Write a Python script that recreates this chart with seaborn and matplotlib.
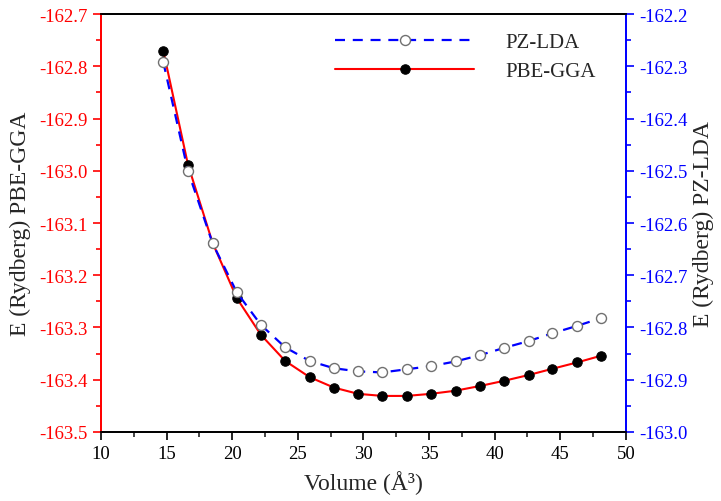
import numpy as np
import matplotlib
matplotlib.use("Agg")
import matplotlib.pyplot as plt
from matplotlib.ticker import MultipleLocator, FormatStrFormatter
import seaborn as sns

# Data
volume = [14.75, 16.63, 18.51, 20.36, 22.19, 24.04, 25.90, 27.75, 29.60, 31.45,
          33.29, 35.14, 37.02, 38.88, 40.73, 42.59, 44.41, 46.27, 48.12]
e_pbe_gga = [-162.770, -162.988, -163.138, -163.244, -163.314, -163.364, -163.395,
             -163.415, -163.427, -163.431, -163.431, -163.427, -163.421, -163.412,
             -163.402, -163.391, -163.379, -163.367, -163.354]
e_pz_lda = [-162.292, -162.500, -162.639, -162.733, -162.795, -162.838, -162.864,
            -162.878, -162.884, -162.886, -162.880, -162.874, -162.865, -162.853,
            -162.839, -162.826, -162.811, -162.797, -162.782]

sns.set_style("ticks")
plt.rcParams['font.family'] = ['Liberation Serif', 'DejaVu Serif']
plt.rcParams['axes.unicode_minus'] = False

fig = plt.figure(figsize=(7.21, 5.02), dpi=100)
ax = fig.add_axes([0.140, 0.1375, 0.728, 0.8325])
ax2 = ax.twinx()

# PBE-GGA on the left axis
sns.lineplot(x=volume, y=e_pbe_gga, ax=ax, color='red', linewidth=1.5,
             marker='o', markersize=6.8, markerfacecolor='black',
             markeredgecolor='black', label='PBE-GGA')

# PZ-LDA on the right axis
sns.lineplot(x=volume, y=e_pz_lda, ax=ax2, color='blue', linewidth=1.6,
             linestyle='--', marker='o', markersize=7.2, markerfacecolor='white',
             markeredgecolor='#707070', markeredgewidth=1.0, label='PZ-LDA')
ax2.lines[0].set_dashes((4.5, 3.5))

ax.set_xlim(10, 50)
ax.set_ylim(-163.5, -162.7)
ax2.set_ylim(-163.0, -162.2)

ax.xaxis.set_major_locator(MultipleLocator(5))
ax.xaxis.set_minor_locator(MultipleLocator(2.5))
for a in (ax, ax2):
    a.yaxis.set_major_locator(MultipleLocator(0.1))
    a.yaxis.set_minor_locator(MultipleLocator(0.05))
    a.yaxis.set_major_formatter(FormatStrFormatter('%.1f'))

tick_fs = 13.5
ax.tick_params(axis='x', which='major', direction='out', length=6, width=1.2,
               labelsize=tick_fs, colors='black', top=False)
ax.tick_params(axis='x', which='minor', direction='out', length=3.5, width=1.2, top=False)
ax.tick_params(axis='y', which='major', direction='out', length=6, width=1.2,
               labelsize=tick_fs, colors='red')
ax.tick_params(axis='y', which='minor', direction='out', length=3.5, width=1.2, colors='red')
ax2.tick_params(axis='y', which='major', direction='out', length=6, width=1.2,
                labelsize=tick_fs, colors='blue')
ax2.tick_params(axis='y', which='minor', direction='out', length=3.5, width=1.2, colors='blue')

for a in (ax, ax2):
    for s in a.spines.values():
        s.set_linewidth(1.3)
        s.set_color('black')
    a.spines['left'].set_color('red')
    a.spines['right'].set_color('blue')

ax.set_xlabel('Volume (Å³)', fontsize=17, labelpad=6)
ax.set_ylabel('E (Rydberg) PBE-GGA', fontsize=17, labelpad=6)
ax2.set_ylabel('E (Rydberg) PZ-LDA', fontsize=17, labelpad=4)

# One legend for both series
ax.get_legend().remove()
ax2.get_legend().remove()
handles = ax2.get_lines()[:1] + ax.get_lines()[:1]
ax2.legend(handles, ['PZ-LDA', 'PBE-GGA'], loc='upper left',
           bbox_to_anchor=(0.41, 1.0), frameon=False, fontsize=15,
           handlelength=6.7, handletextpad=1.5, labelspacing=0.45, numpoints=1)

fig.savefig('out.png', dpi=100)
